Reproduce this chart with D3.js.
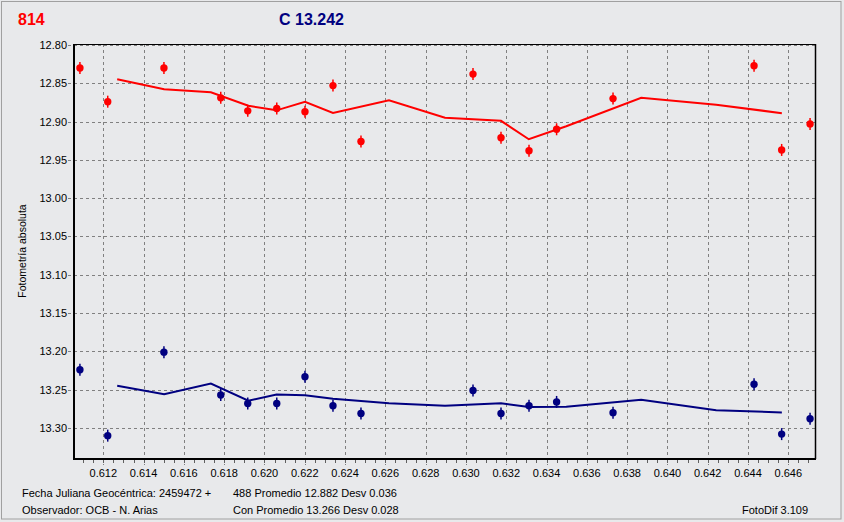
<!DOCTYPE html>
<html>
<head>
<meta charset="utf-8">
<script src="https://cdn.jsdelivr.net/npm/d3@7"></script>
<style>
html,body{margin:0;padding:0;background:#e8e9eb;}
svg{display:block;}
text{font-family:"Liberation Sans",Arial,sans-serif;}
</style>
</head>
<body>
<svg id="chart" width="844" height="522"></svg>
<script>
// ---- data ----
const timesJD = [0.61084,0.61222,0.61501,0.61783,0.61917,0.62061,0.62201,0.62340,0.62479,0.63035,0.63174,0.63313,0.63450,0.63730,0.64430,0.64567,0.64708];
const varMag  = [12.830,12.874,12.830,12.869,12.886,12.883,12.887,12.853,12.926,12.838,12.921,12.938,12.910,12.870,12.827,12.937,12.903];
const chkMag  = [13.224,13.310,13.201,13.257,13.268,13.268,13.233,13.271,13.281,13.251,13.281,13.271,13.266,13.280,13.243,13.308,13.288];
const trendX  = [0.61269,0.61502,0.61734,0.61920,0.62060,0.62201,0.62340,0.62618,0.62896,0.63174,0.63312,0.63498,0.63870,0.64242,0.64568];
const varTrend= [12.8447,12.8577,12.8617,12.8793,12.8853,12.8743,12.8887,12.8723,12.8950,12.8990,12.9230,12.9060,12.8690,12.8780,12.8890];
const chkTrend= [13.2450,13.2560,13.2420,13.2643,13.2563,13.2573,13.2617,13.2677,13.2710,13.2677,13.2727,13.2723,13.2630,13.2770,13.2797];
const xTicks  = [0.612,0.614,0.616,0.618,0.620,0.622,0.624,0.626,0.628,0.630,0.632,0.634,0.636,0.638,0.640,0.642,0.644,0.646];
const yTicks  = [12.80,12.85,12.90,12.95,13.00,13.05,13.10,13.15,13.20,13.25,13.30];
const titleVar = "814";
const titleChk = "C 13.242";
const yTitle = "Fotometría absoluta";
const footLeft = ["Fecha Juliana Geocéntrica: 2459472 +","Observador: OCB - N. Arias"];
const footMid = ["488 Promedio 12.882 Desv 0.036","Con Promedio 13.266 Desv 0.028"];
const footRight = "FotoDif 3.109";

// ---- layout ----
const svg = d3.select("#chart");
const L = 74, R = 815, T = 44, B = 459;
const x = d3.scaleLinear().domain([0.610546, 0.647325]).range([L, R]);
const y = d3.scaleLinear().domain([12.80, 13.3405]).range([45, B]);

// frame
svg.append("rect").attr("x",1.5).attr("y",1.5).attr("width",839.5).attr("height",517.5)
  .attr("fill","#e8e9eb").attr("stroke","#a0a0a0").attr("stroke-width",1);

// grid
const grid = svg.append("g").attr("stroke","#808080").attr("stroke-width",1).attr("stroke-dasharray","3,3");
grid.selectAll("line.v").data(xTicks).join("line")
  .attr("x1",d=>Math.round(x(d))+0.5).attr("x2",d=>Math.round(x(d))+0.5)
  .attr("y1",T).attr("y2",B+6);
grid.selectAll("line.h").data(yTicks).join("line")
  .attr("x1",L-6).attr("x2",R)
  .attr("y1",d=>Math.round(y(d))+0.5).attr("y2",d=>Math.round(y(d))+0.5);

// minor x ticks
const minor = d3.range(0.6110, 0.6473, 0.0005);
svg.append("g").selectAll("line").data(minor).join("line")
  .attr("x1",d=>Math.round(x(d))+0.5).attr("x2",d=>Math.round(x(d))+0.5)
  .attr("y1",B+1).attr("y2",B+4).attr("stroke","#606060").attr("stroke-width",1);

// borders
svg.append("line").attr("x1",L).attr("x2",R).attr("y1",T+0.5).attr("y2",T+0.5).attr("stroke","#000").attr("stroke-width",1);
svg.append("line").attr("x1",R+0.5).attr("x2",R+0.5).attr("y1",T).attr("y2",B).attr("stroke","#000").attr("stroke-width",1.5);
svg.append("line").attr("x1",L).attr("x2",L).attr("y1",T).attr("y2",B+1).attr("stroke","#000").attr("stroke-width",2);
svg.append("line").attr("x1",L-1).attr("x2",R+1).attr("y1",B).attr("y2",B).attr("stroke","#000").attr("stroke-width",2);

// axis labels
svg.append("g").selectAll("text").data(xTicks).join("text")
  .attr("x",d=>x(d)).attr("y",477).attr("text-anchor","middle")
  .attr("font-size",11).attr("fill","#000").text(d=>d3.format(".3f")(d));
svg.append("g").selectAll("text").data(yTicks).join("text")
  .attr("x",67).attr("y",d=>y(d)+4).attr("text-anchor","end")
  .attr("font-size",11).attr("fill","#000").text(d=>d3.format(".2f")(d));

svg.append("text").attr("transform","translate(26,251) rotate(-90)")
  .attr("text-anchor","middle").attr("font-size",10.5).attr("fill","#000").text(yTitle);

// titles
svg.append("text").attr("x",18).attr("y",25).attr("font-size",16).attr("font-weight","bold")
  .attr("fill","#ff0000").text(titleVar);
svg.append("text").attr("x",279).attr("y",25).attr("font-size",16).attr("font-weight","bold")
  .attr("fill","#000080").text(titleChk);

// footer
footLeft.forEach((t,i)=>svg.append("text").attr("x",22).attr("y",497+i*17).attr("font-size",11).attr("fill","#000").text(t));
footMid.forEach((t,i)=>svg.append("text").attr("x",233).attr("y",497+i*17).attr("font-size",11).attr("fill","#000").text(t));
svg.append("text").attr("x",742).attr("y",514).attr("font-size",11).attr("fill","#000").text(footRight);

// trend lines
const line = d3.line().x(d=>x(d[0])).y(d=>y(d[1]));
svg.append("path").datum(d3.zip(trendX,varTrend)).attr("d",line)
  .attr("fill","none").attr("stroke","#ff0000").attr("stroke-width",2);
svg.append("path").datum(d3.zip(trendX,chkTrend)).attr("d",line)
  .attr("fill","none").attr("stroke","#000080").attr("stroke-width",2);

// markers
function markers(vals,color){
  const g = svg.append("g");
  const pts = d3.zip(timesJD, vals);
  g.selectAll("line").data(pts).join("line")
    .attr("x1",d=>x(d[0])).attr("x2",d=>x(d[0]))
    .attr("y1",d=>y(d[1])-6).attr("y2",d=>y(d[1])+6)
    .attr("stroke",color).attr("stroke-width",1.5);
  g.selectAll("circle").data(pts).join("circle")
    .attr("cx",d=>x(d[0])).attr("cy",d=>y(d[1])).attr("r",3.7).attr("fill",color);
}
markers(varMag,"#ff0000");
markers(chkMag,"#000080");
</script>
</body>
</html>
